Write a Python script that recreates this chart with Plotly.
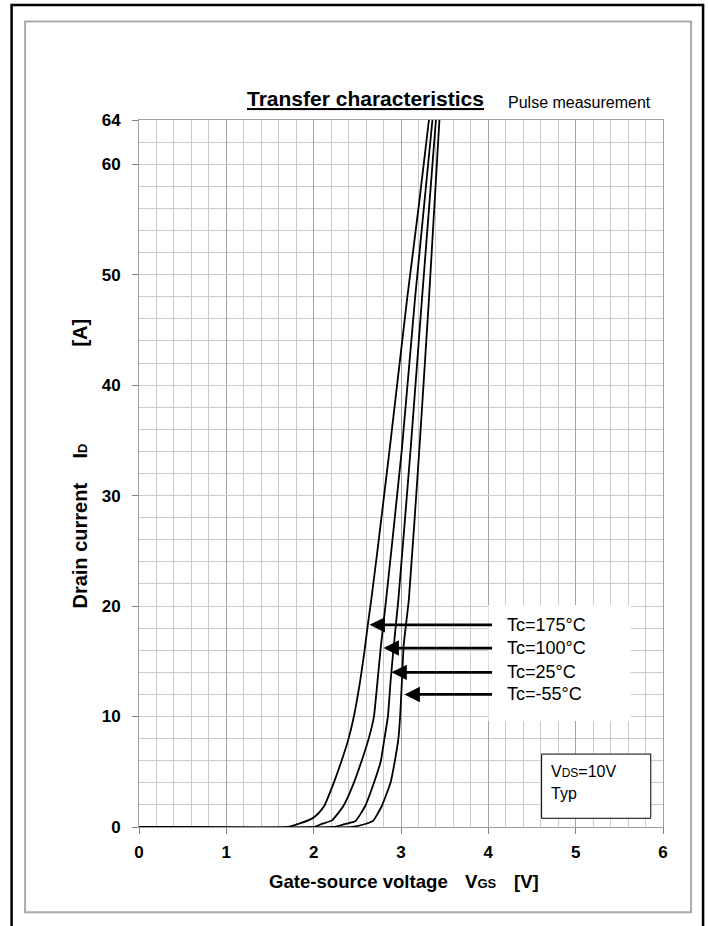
import plotly.graph_objects as go

# ---- data ----
v_175 = [0, 1.70, 1.85, 1.98, 2.05, 2.12, 2.23, 2.32, 2.40, 2.46, 2.53, 2.58, 2.62, 2.66, 2.73, 2.87, 3.07, 3.20, 3.32]
i_175 = [0, 0, 0.35, 0.76, 1.2, 1.9, 4.0, 6.0, 8.0, 10.0, 13.1, 15.8, 18.3, 20.6, 25.0, 34.2, 47.8, 56.0, 64.0]

v_100 = [0, 2.00, 2.10, 2.21, 2.34, 2.46, 2.55, 2.63, 2.69, 2.73, 2.77, 2.83, 3.01, 3.16, 3.36]
i_100 = [0, 0, 0.3, 0.6, 1.9, 4.0, 6.0, 8.0, 10.0, 13.1, 16.4, 20.6, 34.2, 47.8, 64.0]

v_25 = [0, 2.23, 2.35, 2.48, 2.59, 2.69, 2.77, 2.81, 2.85, 2.88, 2.91, 2.97, 3.11, 3.24, 3.40]
i_25 = [0, 0, 0.25, 0.55, 1.9, 4.0, 6.0, 8.0, 10.0, 13.1, 15.8, 20.6, 34.2, 47.8, 64.0]

v_m55 = [0, 2.44, 2.58, 2.68, 2.78, 2.88, 2.93, 2.97, 2.99, 3.01, 3.03, 3.09, 3.21, 3.32, 3.44]
i_m55 = [0, 0, 0.25, 0.55, 1.9, 4.0, 6.0, 8.0, 10.0, 13.1, 16.4, 20.6, 34.2, 47.8, 64.0]

series_labels = ["Tc=175°C", "Tc=100°C", "Tc=25°C", "Tc=-55°C"]
arrow_tip_v = [2.64, 2.80, 2.89, 3.04]
arrow_tip_i = [18.3, 16.2, 14.0, 12.0]
arrow_tail_v = 4.06

x_ticks = [0, 1, 2, 3, 4, 5, 6]
y_ticks = [0, 10, 20, 30, 40, 50, 60, 64]

# ---- geometry helpers (pixel -> paper) ----
L, R, T, B = 138.5, 662.9, 120.0, 827.0
W, H = 708, 926
def px(xp):
    return (xp - L) / (R - L)
def py(yp):
    return (B - yp) / (B - T)

FONT = "Liberation Sans, Arial, sans-serif"

fig = go.Figure()
for vv, ii, name in [(v_175, i_175, series_labels[0]), (v_100, i_100, series_labels[1]),
                     (v_25, i_25, series_labels[2]), (v_m55, i_m55, series_labels[3])]:
    fig.add_trace(go.Scatter(x=vv, y=ii, mode="lines", name=name,
                             line=dict(color="black", width=1.8, shape="spline", smoothing=0.4),
                             showlegend=False, hoverinfo="skip"))

fig.update_layout(
    width=W, height=H, autosize=False,
    margin=dict(l=L, r=W - R, t=T, b=H - B, pad=0),
    paper_bgcolor="white", plot_bgcolor="white",
    font=dict(family=FONT, color="black"),
    xaxis=dict(range=[0, 6], tickvals=x_ticks, ticktext=[str(v) for v in x_ticks],
               showgrid=True, gridcolor="#a3a3a3", gridwidth=1,
               minor=dict(dtick=0.2, tick0=0, showgrid=True, gridcolor="#cbcbcb", gridwidth=1, ticks=""),
               ticks="outside", ticklen=6, tickcolor="#808080", tickwidth=1,
               ticklabelstandoff=4,
               tickfont=dict(family=FONT, size=17, weight="bold", color="black"),
               showline=True, linecolor="#a0a0a0", linewidth=1, mirror=True, zeroline=False,
               fixedrange=True),
    yaxis=dict(range=[0, 64], tickvals=y_ticks, ticktext=[str(v) for v in y_ticks],
               showgrid=True, gridcolor="#cbcbcb", gridwidth=1,
               minor=dict(dtick=2, tick0=0, showgrid=True, gridcolor="#cbcbcb", gridwidth=1, ticks=""),
               ticks="outside", ticklen=6, tickcolor="#808080", tickwidth=1,
               ticklabelstandoff=8,
               tickfont=dict(family=FONT, size=17, weight="bold", color="black"),
               showline=True, linecolor="#a0a0a0", linewidth=1, mirror=True, zeroline=False,
               fixedrange=True),
)

shapes = []
# outer black frame (open at bottom)
shapes.append(dict(type="path", xref="paper", yref="paper",
                   path=f"M {px(11)},{py(940)} L {px(11)},{py(5)} L {px(703)},{py(5)} L {px(703)},{py(940)}",
                   line=dict(color="black", width=2.5)))
# inner grey frame
shapes.append(dict(type="rect", xref="paper", yref="paper",
                   x0=px(24.5), x1=px(691), y0=py(912.3), y1=py(21.5),
                   line=dict(color="#aaaaaa", width=2)))
# white box behind temperature labels
shapes.append(dict(type="rect", xref="x", yref="y", x0=4.0, x1=5.63, y0=9.6, y1=20.1,
                   fillcolor="white", line=dict(width=0), layer="above"))
# VDS box
shapes.append(dict(type="rect", xref="x", yref="y", x0=4.61, x1=5.86, y0=0.79, y1=6.6,
                   fillcolor="white", line=dict(color="black", width=1), layer="above"))
fig.update_layout(shapes=shapes)

ann = []
for lab, tv, ti in zip(series_labels, arrow_tip_v, arrow_tip_i):
    ann.append(dict(x=tv, y=ti, xref="x", yref="y", ax=arrow_tail_v, ay=ti, axref="x", ayref="y",
                    text="", showarrow=True, arrowhead=2, arrowsize=1.1, arrowwidth=2.8,
                    arrowcolor="black", standoff=0))
    ann.append(dict(x=4.19, y=ti, xref="x", yref="y", text=lab, showarrow=False,
                    xanchor="left", yanchor="middle",
                    font=dict(family=FONT, size=18, color="black")))

ann.append(dict(x=4.7, y=5.0, xref="x", yref="y", xanchor="left", yanchor="middle", showarrow=False,
                text="V<span style='font-size:12px'>DS</span>=10V",
                font=dict(family=FONT, size=16, color="black")))
ann.append(dict(x=4.7, y=3.0, xref="x", yref="y", xanchor="left", yanchor="middle", showarrow=False,
                text="Typ", font=dict(family=FONT, size=16, color="black")))

# title
ann.append(dict(x=px(365), y=py(99), xref="paper", yref="paper", xanchor="center", yanchor="middle",
                showarrow=False, text="Transfer characteristics",
                font=dict(family=FONT, size=21, weight="bold", color="black", lineposition="under")))
ann.append(dict(x=px(653), y=py(102), xref="paper", yref="paper", xanchor="right", yanchor="middle",
                showarrow=False, text="Pulse measurement",
                font=dict(family=FONT, size=16, color="black")))
# x axis title pieces
ann.append(dict(x=px(267), y=py(881), xref="paper", yref="paper", xanchor="left", yanchor="middle",
                showarrow=False, text="Gate-source voltage",
                font=dict(family=FONT, size=18.6, weight="bold", color="black")))
ann.append(dict(x=px(463), y=py(881), xref="paper", yref="paper", xanchor="left", yanchor="middle",
                showarrow=False, text="V<span style='font-size:13px'>GS</span>",
                font=dict(family=FONT, size=18.6, weight="bold", color="black")))
ann.append(dict(x=px(512), y=py(881), xref="paper", yref="paper", xanchor="left", yanchor="middle",
                showarrow=False, text="[V]",
                font=dict(family=FONT, size=18.6, weight="bold", color="black")))
# y axis title pieces
ann.append(dict(x=px(79), y=py(546), xref="paper", yref="paper", xanchor="center", yanchor="middle",
                showarrow=False, textangle=-90, text="Drain current",
                font=dict(family=FONT, size=20, weight="bold", color="black")))
ann.append(dict(x=px(79), y=py(451), xref="paper", yref="paper", xanchor="center", yanchor="middle",
                showarrow=False, textangle=-90, text="I<span style='font-size:13px'>D</span>",
                font=dict(family=FONT, size=20, weight="bold", color="black")))
ann.append(dict(x=px(79), y=py(333), xref="paper", yref="paper", xanchor="center", yanchor="middle",
                showarrow=False, textangle=-90, text="[A]",
                font=dict(family=FONT, size=20, weight="bold", color="black")))
fig.update_layout(annotations=ann)

fig.write_html("out.html", config={"displayModeBar": False},
               post_script="document.body.style.margin='0px';document.body.style.overflow='hidden';")
